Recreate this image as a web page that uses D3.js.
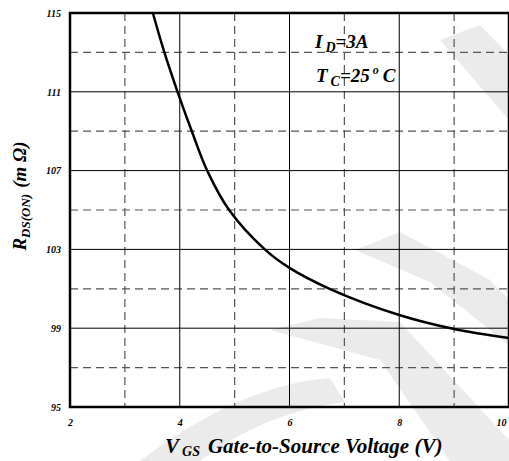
<!DOCTYPE html>
<html>
<head>
<meta charset="utf-8">
<script src="https://cdn.jsdelivr.net/npm/d3@7"></script>
<style>
  html, body { margin: 0; padding: 0; background: #fff; }
  svg { display: block; }
  text { font-family: 'Liberation Serif', 'Times New Roman', serif; font-weight: bold; font-style: italic; fill: #000; }
</style>
</head>
<body>
<svg id="chart" width="509" height="461"></svg>
<script>
// ── Data ────────────────────────────────────────────────────────────────
const vgs   = [3.51, 3.72, 3.96, 4.22, 4.5, 4.9, 5.55, 6.0, 6.73, 8.0, 9.0, 10.0];
const rdson = [115, 113, 111, 109, 107, 105, 103, 102.06, 101, 99.67, 98.96, 98.5];

const xTicks      = [2, 4, 6, 8, 10];
const xMinorGrid  = [3, 5, 7, 9];
const yTicks      = [95, 99, 103, 107, 111, 115];
const yMinorGrid  = [97, 101, 105, 109, 113];

const svg = d3.select('#chart');
const margin = { top: 13, right: 0, bottom: 54, left: 70 };
const W = 509 - margin.left - margin.right;
const H = 461 - margin.top - margin.bottom;

const x = d3.scaleLinear().domain([2, 10]).range([margin.left, margin.left + W]);
const y = d3.scaleLinear().domain([95, 115]).range([margin.top + H, margin.top]);

// watermark bands (light grey, behind everything)
const wm = svg.append('g').attr('fill', '#ebebeb');
wm.append('path').attr('d', 'M140,461 Q240,385 330,378 L345,402 Q265,412 200,461 Z');
wm.append('path').attr('d', 'M270,330 L320,318 L400,322 L509,440 L509,461 L450,461 L380,360 Z');
wm.append('path').attr('d', 'M355,250 L400,232 L490,280 L509,300 L509,345 L490,330 L430,282 Z');
wm.append('path').attr('d', 'M440,40 L480,25 L509,55 L509,120 Z');

// grid
const grid = svg.append('g');
grid.selectAll('.vmin').data(xMinorGrid).enter().append('line')
  .attr('x1', d => x(d)).attr('x2', d => x(d))
  .attr('y1', margin.top).attr('y2', margin.top + H)
  .attr('stroke', '#555').attr('stroke-width', 1.2).attr('stroke-dasharray', '8,5');
grid.selectAll('.hmin').data(yMinorGrid).enter().append('line')
  .attr('x1', margin.left).attr('x2', margin.left + W)
  .attr('y1', d => y(d)).attr('y2', d => y(d))
  .attr('stroke', '#555').attr('stroke-width', 1.2).attr('stroke-dasharray', '8,5');
grid.selectAll('.vmaj').data(xTicks.slice(1, -1)).enter().append('line')
  .attr('x1', d => x(d)).attr('x2', d => x(d))
  .attr('y1', margin.top).attr('y2', margin.top + H)
  .attr('stroke', '#000').attr('stroke-width', 1);
grid.selectAll('.hmaj').data(yTicks.slice(1, -1)).enter().append('line')
  .attr('x1', margin.left).attr('x2', margin.left + W)
  .attr('y1', d => y(d)).attr('y2', d => y(d))
  .attr('stroke', '#000').attr('stroke-width', 1);

// curve
const pts = vgs.map((v, i) => ({ v, r: rdson[i] }));
const line = d3.line().x(d => x(d.v)).y(d => y(d.r)).curve(d3.curveCatmullRom.alpha(0.5));
svg.append('path').datum(pts)
  .attr('fill', 'none').attr('stroke', '#000').attr('stroke-width', 2.5).attr('d', line);

// frame
svg.append('rect')
  .attr('x', margin.left).attr('y', margin.top).attr('width', W).attr('height', H)
  .attr('fill', 'none').attr('stroke', '#000').attr('stroke-width', 2.5);

// axes (labels only)
const xAxis = svg.append('g').attr('transform', `translate(0,${margin.top + H})`)
  .call(d3.axisBottom(x).tickValues(xTicks).tickSize(0).tickPadding(12));
xAxis.select('.domain').remove();
xAxis.selectAll('text').attr('font-size', 10).attr('font-family', null);
// last label would be clipped at the window edge — keep it inside
xAxis.selectAll('.tick').filter(d => d === 10).select('text').attr('text-anchor', 'end').attr('dx', -3);

const yAxis = svg.append('g').attr('transform', `translate(${margin.left},0)`)
  .call(d3.axisLeft(y).tickValues(yTicks).tickSize(0).tickPadding(9));
yAxis.select('.domain').remove();
yAxis.selectAll('text').attr('font-size', 10).attr('font-family', null);

// annotation
const ann1 = svg.append('text').attr('x', 315).attr('y', 48).attr('font-size', 19);
ann1.append('tspan').text('I');
ann1.append('tspan').attr('font-size', 14).attr('dy', 4).attr('dx', 3).text('D');
ann1.append('tspan').attr('dy', -4).text('=3A');

const ann2 = svg.append('text').attr('x', 316).attr('y', 82).attr('font-size', 19);
ann2.append('tspan').text('T');
ann2.append('tspan').attr('font-size', 14).attr('dy', 4).attr('dx', 3).text('C');
ann2.append('tspan').attr('dy', -4).text('=25');
ann2.append('tspan').attr('font-size', 12).attr('dy', -8).attr('dx', 3).text('o');
ann2.append('tspan').attr('dy', 8).attr('dx', 4).text('C');

// axis titles
const xt = svg.append('text').attr('x', 165).attr('y', 453).attr('font-size', 21);
xt.append('tspan').text('V');
xt.append('tspan').attr('font-size', 14).attr('dy', 3).attr('dx', 3).text('GS');
xt.append('tspan').attr('dy', -3).attr('dx', 8).text('Gate-to-Source Voltage (V)');

const yt = svg.append('text').attr('transform', 'translate(26,196) rotate(-90)')
  .attr('text-anchor', 'middle').attr('font-size', 19);
yt.append('tspan').text('R');
yt.append('tspan').attr('font-size', 13).attr('dy', 4).text('DS(ON)');
yt.append('tspan').attr('dy', -4).attr('dx', 6).text('(m ');
yt.append('tspan').text('Ω)');
</script>
</body>
</html>
